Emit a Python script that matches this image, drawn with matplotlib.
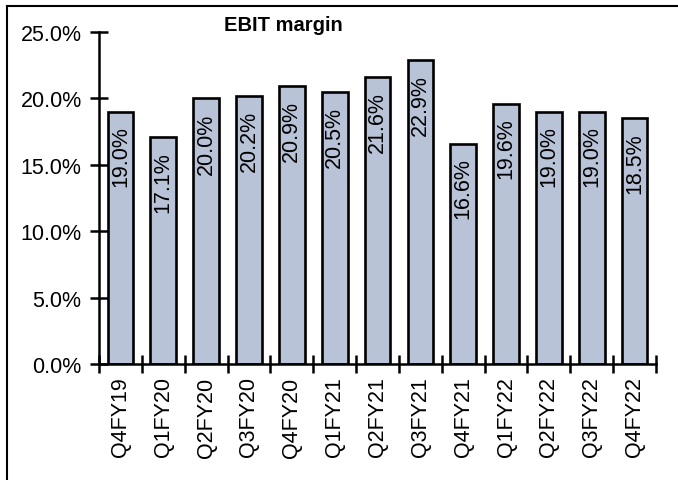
import numpy as np
import matplotlib.pyplot as plt
from matplotlib.lines import Line2D
from matplotlib.ticker import FixedLocator, FuncFormatter

plt.rcParams['font.family'] = ['Liberation Sans', 'DejaVu Sans']

quarters = ['Q4FY19', 'Q1FY20', 'Q2FY20', 'Q3FY20', 'Q4FY20', 'Q1FY21', 'Q2FY21',
            'Q3FY21', 'Q4FY21', 'Q1FY22', 'Q2FY22', 'Q3FY22', 'Q4FY22']
ebit_margin = [19.0, 17.1, 20.0, 20.2, 20.9, 20.5, 21.6, 22.9, 16.6, 19.6, 19.0, 19.0, 18.5]

fig = plt.figure(figsize=(6.78, 4.81), dpi=100)
ax = fig.add_axes([0.146, 0.2412, 0.8216, 0.6902])

x = np.arange(len(quarters))
bars = ax.bar(x, ebit_margin, width=0.6, color='#b9c3d7', edgecolor='black', linewidth=1.9, zorder=2)

# value labels, rotated, inside the top of each bar
for xi, v in zip(x, ebit_margin):
    ax.annotate(f'{v:.1f}%', (xi, v), xytext=(0, -10), textcoords='offset points',
                rotation=90, ha='center', va='top', fontsize=15.5)

ax.set_xlim(-0.5, len(quarters) - 0.5)
ax.set_ylim(0, 25)
ax.set_yticks(np.arange(0, 25.1, 5))
ax.yaxis.set_major_formatter(FuncFormatter(lambda v, p: f'{v:.1f}%'))

ax.set_xticks(x)
ax.set_xticklabels(quarters, rotation=90, fontsize=15.5)
ax.xaxis.set_minor_locator(FixedLocator(np.arange(-0.5, len(quarters), 1.0)))
ax.tick_params(axis='x', which='major', length=0, pad=9)
ax.tick_params(axis='x', which='minor', direction='inout', length=13, width=1.8)
ax.tick_params(axis='y', direction='inout', length=13, width=1.8, labelsize=15.5, pad=6)

for s in ['top', 'right']:
    ax.spines[s].set_visible(False)
for s in ['left', 'bottom']:
    ax.spines[s].set_linewidth(1.8)

fig.text(0.418, 0.948, 'EBIT margin', ha='center', va='center', fontsize=14.5, fontweight='bold')

# outer frame (left and top edges)
fig.add_artist(Line2D([0.0103, 0.0103], [0, 0.9855], transform=fig.transFigure, color='black', lw=1.5))
fig.add_artist(Line2D([0.0103, 1.0], [0.9855, 0.9855], transform=fig.transFigure, color='black', lw=1.5))

fig.savefig('out.png', dpi=100)
